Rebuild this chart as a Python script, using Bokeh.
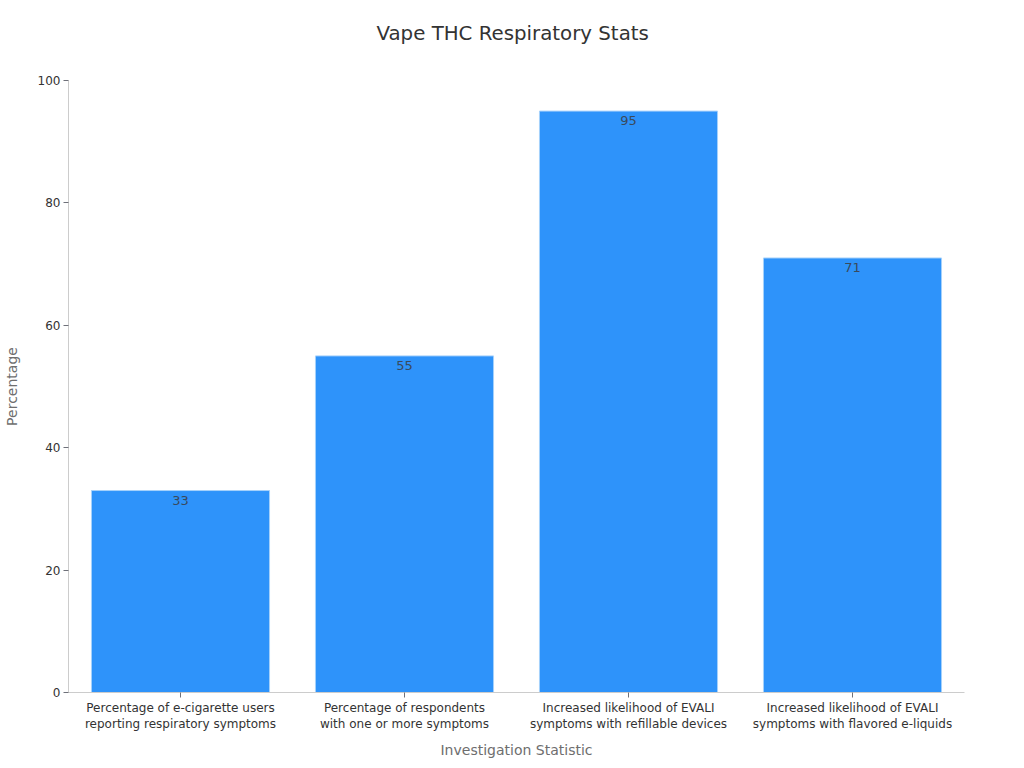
from bokeh.core.properties import value
from bokeh.embed import file_html
from bokeh.resources import INLINE
from bokeh.plotting import figure
from bokeh.models import ColumnDataSource, LabelSet, FixedTicker, Range1d, FactorRange

categories = [
    "Percentage of e-cigarette users\nreporting respiratory symptoms",
    "Percentage of respondents\nwith one or more symptoms",
    "Increased likelihood of EVALI\nsymptoms with refillable devices",
    "Increased likelihood of EVALI\nsymptoms with flavored e-liquids",
]
values = [33, 55, 95, 71]
y_ticks = [0, 20, 40, 60, 80, 100]
title_text = "Vape THC Respiratory Stats"
x_label = "Investigation Statistic"
y_label = "Percentage"

FONT = "DejaVu Sans"
source = ColumnDataSource(dict(cat=categories, val=values, txt=[str(v) for v in values]))

p = figure(width=1024, height=768, output_backend="svg", toolbar_location=None,
           x_range=FactorRange(factors=categories, range_padding=0, group_padding=0),
           y_range=Range1d(0, 100),
           min_border_left=0, min_border_right=60, min_border_top=80, min_border_bottom=76)

p.vbar(x="cat", top="val", width=0.795, source=source, fill_color="#2E93FA",
       line_color="#A6D1FB", line_width=1)

p.add_layout(LabelSet(x="cat", y="val", text="txt", source=source, text_align="center",
                      text_baseline="middle", y_offset=-9.5, text_font=value(FONT),
                      text_font_size="13px", text_color="#3A4A5C"))

p.title.text = title_text
p.title.align = "left"
p.title.offset = 308
p.title.text_font = FONT
p.title.text_font_size = "19.8px"
p.title.text_font_style = "normal"
p.title.text_color = "#333333"
p.title.standoff = 36
p.title.padding = (0, 0, 0, 18)

p.grid.visible = False
p.outline_line_color = None
p.background_fill_color = "white"

p.xaxis.axis_label = x_label
p.yaxis.axis_label = y_label
for ax in (p.xaxis[0], p.yaxis[0]):
    ax.axis_label_text_font = FONT
    ax.axis_label_text_font_size = "14px"
    ax.axis_label_text_font_style = "normal"
    ax.axis_label_text_color = "#6E6E6E"
    ax.major_label_text_font = FONT
    ax.major_label_text_font_size = "12px"
    ax.major_label_text_color = "#333333"
    ax.axis_line_color = "#CCCCCC"
    ax.major_tick_line_color = "#6E7079"
    ax.minor_tick_line_color = None
    ax.major_tick_in = 0
    ax.major_tick_out = 5

p.xaxis[0].major_label_orientation = "horizontal"
p.xaxis[0].major_label_standoff = 3
p.xaxis[0].axis_label_standoff = 8
p.yaxis[0].ticker = FixedTicker(ticks=y_ticks)
p.yaxis[0].major_label_standoff = 3
p.yaxis[0].axis_label_standoff = 15

open("out.html", "w").write(file_html(p, INLINE))
